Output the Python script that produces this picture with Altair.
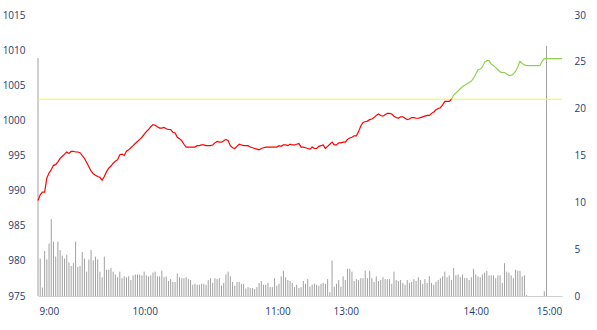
import altair as alt
import pandas as pd

# ---- data ----
price = [
    988.6, 989.4, 989.8, 989.8, 991.8, 992.5, 993.0, 993.6, 993.7, 994.1,
    994.6, 994.9, 995.2, 995.5, 995.3, 995.6, 995.6, 995.5, 995.5, 995.4,
    995.0, 994.6, 994.0, 993.4, 992.8, 992.4, 992.2, 992.0, 991.9, 991.5,
    992.0, 992.7, 993.2, 993.5, 993.9, 994.2, 994.4, 995.1, 995.2, 995.0,
    995.6, 995.8, 996.1, 996.4, 996.7, 997.0, 997.3, 997.6, 998.0, 998.4,
    998.7, 999.1, 999.4, 999.3, 999.1, 998.9, 998.9, 999.0, 998.8, 998.7,
    998.7, 998.3, 998.2, 997.6, 997.4, 997.1, 996.6, 996.2, 996.2, 996.2,
    996.2, 996.2, 996.4, 996.4, 996.5, 996.5, 996.4, 996.4, 996.4, 996.5,
    996.8, 997.0, 996.9, 996.9, 997.1, 997.3, 997.1, 996.4, 996.1, 996.0,
    996.3, 996.6, 996.5, 996.4, 996.4, 996.4, 996.2, 996.1, 996.0, 995.9,
    995.8, 996.0, 996.1, 996.2, 996.2, 996.2, 996.2, 996.2, 996.2, 996.4,
    996.3, 996.5, 996.5, 996.4, 996.6, 996.5, 996.5, 996.6, 996.7, 996.2,
    996.2, 996.1, 996.0, 995.9, 996.2, 996.0, 996.0, 996.3, 996.4, 996.5,
    996.0, 996.3, 996.6, 996.9, 996.5, 996.5, 996.8, 996.8, 996.9, 996.9,
    997.3, 997.5, 997.6, 997.8, 997.8, 998.4, 999.2, 999.7, 999.8, 999.9,
    1000.1, 1000.2, 1000.4, 1000.7, 1000.9, 1000.7, 1000.6, 1000.8, 1001.0, 1001.0,
    1000.9, 1000.6, 1000.4, 1000.3, 1000.5, 1000.5, 1000.3, 1000.1, 1000.2, 1000.4,
    1000.4, 1000.3, 1000.3, 1000.4, 1000.5, 1000.6, 1000.7, 1000.7, 1001.0, 1001.2,
    1001.5, 1001.7, 1001.8, 1002.2, 1002.7, 1002.7, 1002.7, 1003.0, 1003.6, 1003.9,
    1004.2, 1004.5, 1004.8, 1005.0, 1005.2, 1005.4, 1005.6, 1006.0, 1006.6, 1007.2,
    1007.3, 1007.6, 1008.3, 1008.5, 1008.5, 1008.0, 1007.8, 1007.5, 1007.2, 1006.9,
    1006.8, 1006.8, 1006.6, 1006.4, 1006.4, 1006.6, 1007.0, 1007.6, 1008.4, 1008.1,
    1007.9, 1007.8, 1007.8, 1007.8, 1007.8, 1007.8, 1007.8, 1007.8, 1008.4, 1008.8,
    1008.8, 1008.8, 1008.8, 1008.8, 1008.8, 1008.8, 1008.8, 1008.8,
]

volume = [
    25.4,
    4.0, 0.9, 4.8, 3.9, 5.6, 8.2, 5.8, 4.2, 5.8, 4.9,
    4.3, 4.0, 4.4, 3.6, 3.2, 3.5, 5.8, 3.1, 3.2, 4.7,
    4.0, 2.6, 3.9, 4.9, 3.8, 4.2, 3.9, 2.6, 2.0, 4.2,
    2.8, 2.8, 3.0, 2.6, 2.3, 2.0, 2.6, 1.9, 2.1, 2.0,
    2.1, 1.7, 2.2, 2.3, 2.3, 2.3, 2.2, 2.6, 2.2, 2.1,
    2.2, 2.5, 2.6, 2.1, 2.1, 2.7, 2.0, 2.1, 1.6,
    1.8, 1.5, 1.5, 2.4, 2.0, 1.9, 1.9, 2.0, 1.8, 1.7,
    1.2, 1.3, 1.2, 1.2, 1.3, 1.3, 1.2, 1.7, 1.9, 1.4,
    1.9, 1.8, 1.9, 1.1, 1.4, 2.3, 2.6, 2.1, 1.5, 1.1,
    1.5, 1.5, 1.3, 1.3, 0.8, 0.95, 0.85, 0.85, 0.75, 0.95,
    1.4, 1.6, 1.2, 1.2, 1.4, 0.95, 0.95, 1.9, 1.1, 1.3,
    2.1, 2.7, 2.0, 1.7, 1.6, 1.4, 0.95, 1.2, 0.85, 0.95,
    1.6,
    1.3, 1.8, 1.0, 1.2, 1.3, 1.2, 1.1, 1.3, 1.4, 1.3,
    1.8, 0.4, 3.8, 1.0, 1.3, 1.7, 1.0, 2.1, 1.7, 2.9,
    2.9, 2.6, 1.6, 1.8, 1.7, 1.9, 1.9, 2.7, 1.9, 2.7,
    1.9, 1.5, 2.1, 1.6, 1.7, 2.0, 1.8, 1.8, 1.8, 1.3,
    2.6, 1.7, 1.6, 1.7, 1.4, 1.2, 1.7, 1.4, 1.5, 1.8,
    1.6, 2.0, 1.7, 1.3, 1.8, 1.4, 2.1, 1.4, 1.2,
    1.5, 1.7, 1.9, 2.1, 2.6, 2.0, 2.2, 1.7, 3.0, 2.2,
    2.3, 2.0, 2.3, 1.9, 1.9, 1.7, 2.0, 2.9, 2.3, 2.1,
    2.0, 2.3, 2.5, 2.7, 2.2, 2.2, 2.2, 1.9, 2.2, 2.2,
    1.4, 3.5, 2.6, 2.5, 2.2, 1.9, 2.8, 2.7, 2.7, 2.1,
    2.2,
    0.1, 0, 0, 0, 0, 0, 0, 0, 0.5, 26.7,
    0, 0, 0, 0, 0, 0, 0,
]

ref_price = [1003.0]
split_index = 187  # where the price line crosses the reference level

tick_pos = [4.9, 48.3, 108.3, 139.2, 198.0, 231.1]
tick_labels = ["9:00", "10:00", "11:00", "13:00", "14:00", "15:00"]

price_ticks = [975, 980, 985, 990, 995, 1000, 1005, 1010, 1015]
vol_ticks = [0, 5, 10, 15, 20, 25, 30]

# ---- frames ----
n = len(price)
df_p = pd.DataFrame({"i": list(range(n)), "p": price})
df_v = pd.DataFrame({"i": list(range(len(volume))), "v": volume})
df_red = df_p[df_p["i"] <= split_index]
df_green = df_p[df_p["i"] >= split_index]
df_ref = pd.DataFrame({"ref": ref_price})

FONT = "Open Sans"
TXT = "#1f3a6e"

label_expr = " : ".join(
    f"datum.value == {p} ? '{l}'" for p, l in zip(tick_pos, tick_labels)
) + " : ''"

x_scale = alt.Scale(domain=[0, n - 1], nice=False, zero=False)
x_axis = alt.Axis(
    values=tick_pos, labelExpr=label_expr, title=None, grid=False, ticks=False,
    domain=True, domainColor="#d0d0d0", domainWidth=1, labelFlush=False,
    labelOverlap=False, labelPadding=10, labelFont=FONT, labelFontSize=10,
    labelColor=TXT, labelAlign="center",
)
X = alt.X("i:Q", scale=x_scale, axis=x_axis)

p_scale = alt.Scale(domain=[975, 1015], nice=False, zero=False)
p_axis = alt.Axis(
    orient="left", values=price_ticks, format="d", title=None, grid=False,
    ticks=False, domain=False, labelPadding=13, labelFont=FONT,
    labelFontSize=10, labelColor=TXT,
)
v_axis = alt.Axis(
    orient="right", values=vol_ticks, format="d", title=None, grid=False,
    ticks=False, domain=False, labelPadding=12, labelFont=FONT,
    labelFontSize=10, labelColor=TXT,
)

vol = alt.Chart(df_v).mark_rule(color="#a0a0a0", strokeWidth=1).encode(
    x=X,
    y=alt.Y("v:Q", scale=alt.Scale(domain=[0, 30], nice=False), axis=v_axis),
    y2=alt.datum(0),
)

ref = alt.Chart(df_ref).mark_rule(color="#ffff00", strokeWidth=1).encode(
    y=alt.Y("ref:Q", scale=p_scale, axis=p_axis),
)
red = alt.Chart(df_red).mark_line(color="#ff0000", strokeWidth=1.2).encode(
    x=X, y=alt.Y("p:Q", scale=p_scale, axis=p_axis),
)
green = alt.Chart(df_green).mark_line(color="#92d050", strokeWidth=1.2).encode(
    x=X, y=alt.Y("p:Q", scale=p_scale, axis=p_axis),
)

price_layer = alt.layer(ref, red, green)

chart = alt.layer(vol, price_layer).resolve_scale(y="independent").properties(
    width=524, height=281,
    autosize=alt.AutoSizeParams(type="none"),
    padding={"left": 38, "right": 35, "top": 15, "bottom": 34},
    background="white",
).configure_view(stroke=None)

chart.save("out.html", embed_options={"renderer": "svg", "actions": False})
